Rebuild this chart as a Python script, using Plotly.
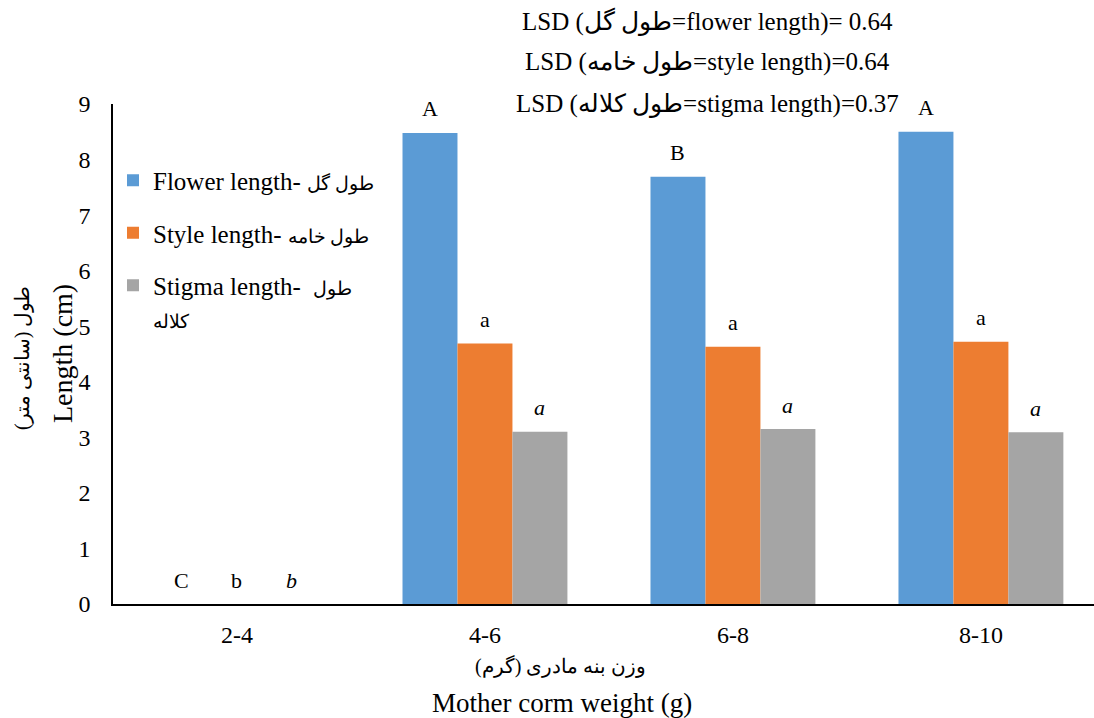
import plotly.graph_objects as go

# Mother corm weight classes (g)
categories = ["2-4", "4-6", "6-8", "8-10"]

# Mean lengths (cm)
flower_length = [0, 8.48, 7.69, 8.50]
style_length = [0, 4.69, 4.63, 4.72]
stigma_length = [0, 3.10, 3.15, 3.09]

# Mean-separation letters (LSD test)
flower_letters = ["C", "A", "B", "A"]
style_letters = ["b", "a", "a", "a"]
stigma_letters = ["<i>b</i>", "<i>a</i>", "<i>a</i>", "<i>a</i>"]

FA = "<span style='font-size:19px'>{}</span>"
series_names = [
    "Flower length- " + FA.format("طول گل"),
    "Style length- " + FA.format("طول خامه"),
    "Stigma length-  " + FA.format("طول") + "<br>" + FA.format("کلاله"),
]
colors = ["#5B9BD5", "#ED7D31", "#A5A5A5"]

lsd_lines = [
    "LSD (طول گل=flower length)= 0.64",
    "LSD (طول خامه=style length)=0.64",
    "LSD (طول کلاله=stigma length)=0.37",
]

FONT = '"Liberation Serif", "Times New Roman", serif'

W, H = 1094, 718
ML, MR, MT, MB = 113, 0, 104, 114
plot_w = W - ML - MR
plot_h = H - MT - MB


def px_to_paper(px, py):
    return (px - ML) / plot_w, (H - MB - py) / plot_h


fig = go.Figure()
all_values = [flower_length, style_length, stigma_length]
all_letters = [flower_letters, style_letters, stigma_letters]

for i, (name, vals, col) in enumerate(zip(series_names, all_values, colors)):
    fig.add_trace(go.Bar(
        x=categories, y=vals, name=name, marker_color=col,
        marker_line_width=0, legendgroup=f"g{i}",
    ))

# Letters above each bar
bar_px = 55
for i, (vals, letters) in enumerate(zip(all_values, all_letters)):
    for cat, v, t in zip(categories, vals, letters):
        fig.add_annotation(
            x=cat, y=v, xref="x", yref="y", text=t, showarrow=False,
            xshift=(i - 1) * bar_px, yshift=24, yanchor="middle",
            font=dict(family=FONT, size=22, color="black"),
        )

# LSD statements
for k, line in enumerate(lsd_lines):
    ax, ay = px_to_paper(707, 22 + k * 41)
    fig.add_annotation(
        x=ax, y=ay, xref="paper", yref="paper", text=line,
        showarrow=False, font=dict(family=FONT, size=25, color="black"),
        xanchor="center", yanchor="middle",
    )


# Axis titles (bilingual)
def title_ann(px, py, text, size, angle=0):
    ax, ay = px_to_paper(px, py)
    fig.add_annotation(x=ax, y=ay, xref="paper", yref="paper", text=text,
                       textangle=angle, showarrow=False,
                       xanchor="center", yanchor="middle",
                       font=dict(family=FONT, size=size, color="black"))


title_ann(22, 358, "طول (سانتی متر)", 20, -90)
title_ann(62, 354, "Length (cm)", 28, -90)
title_ann(560, 666, "وزن بنه مادری (گرم)", 20)
title_ann(562, 703, "Mother corm weight (g)", 27)

fig.update_layout(
    width=W, height=H,
    margin=dict(l=ML, r=MR, t=MT, b=MB),
    paper_bgcolor="white", plot_bgcolor="white",
    barmode="group", bargap=0.335, bargroupgap=0,
    font=dict(family=FONT, size=24, color="black"),
    legend=dict(
        x=0.0, y=0.893, xanchor="left", yanchor="top",
        bgcolor="rgba(0,0,0,0)", tracegroupgap=17, valign="top",
        font=dict(family=FONT, size=25, color="black"),
        itemwidth=30,
    ),
    xaxis=dict(
        range=[-0.5, 3.456], showline=True, linecolor="black", linewidth=1.5,
        showgrid=False, ticks="outside", ticklen=8, tickcolor="rgba(0,0,0,0)",
        tickfont=dict(family=FONT, size=24),
    ),
    yaxis=dict(
        range=[0, 9], dtick=1, showline=True, linecolor="black", linewidth=1.5,
        showgrid=False, zeroline=False, ticks="outside", ticklen=16,
        tickcolor="rgba(0,0,0,0)", tickfont=dict(family=FONT, size=24),
    ),
)

fig.write_html("out.html")
